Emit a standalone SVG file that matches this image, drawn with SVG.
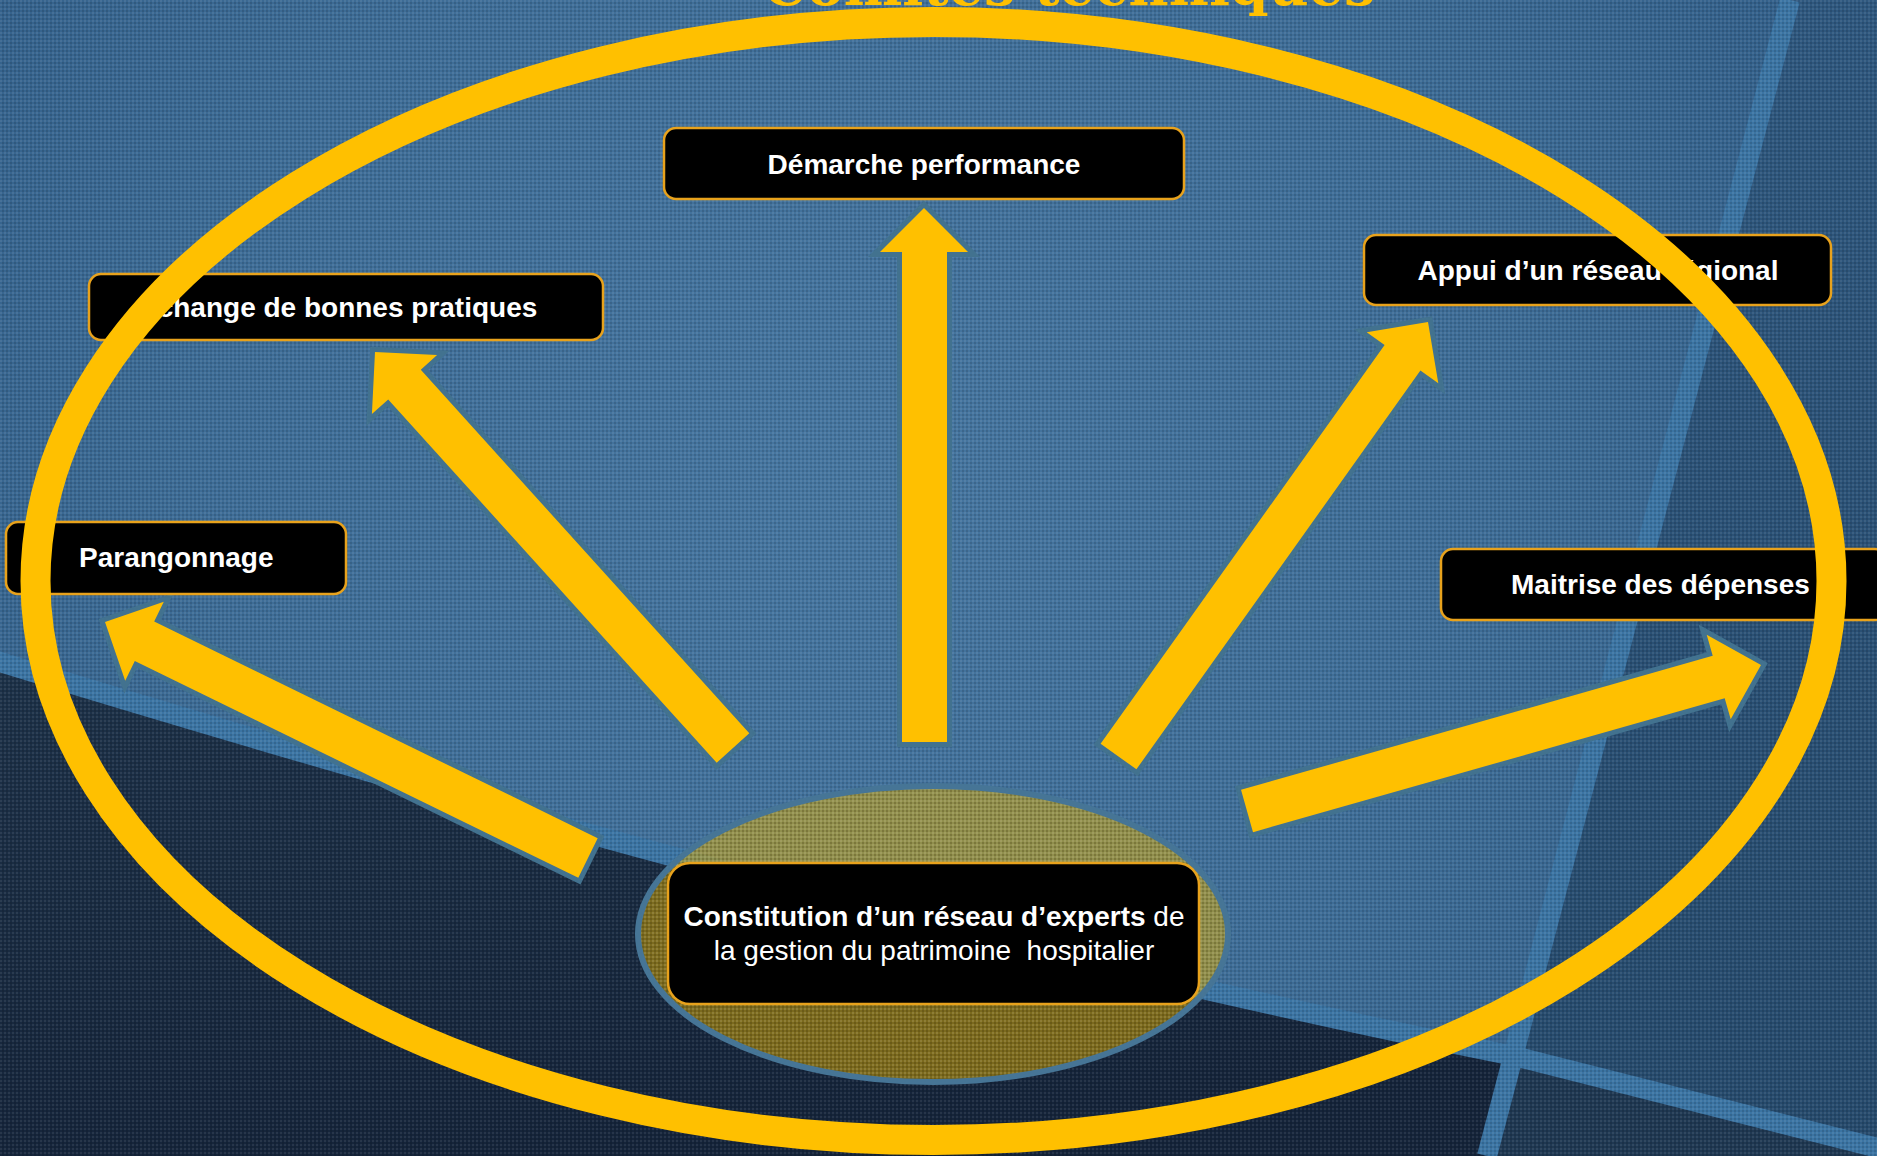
<svg xmlns="http://www.w3.org/2000/svg" width="1877" height="1156" viewBox="0 0 1877 1156">
  <defs>
    <style>
      .box { fill: #000000; stroke: #E8A21C; stroke-width: 2.5; }
      .lbl { font-family: "Liberation Sans", Arial, sans-serif; font-size: 28px; font-weight: bold; fill: #FFFFFF; }
      .reg { font-weight: normal; }
      .arrow { fill: #FFC000; stroke: #42728F; stroke-width: 10; stroke-linejoin: miter; paint-order: stroke; }
      .band { fill: none; stroke: #3B74A3; stroke-width: 20; }
    </style>
    <radialGradient id="gQ1" gradientUnits="userSpaceOnUse" cx="850" cy="480" r="1050">
      <stop offset="0" stop-color="#4676A0"/>
      <stop offset="0.6" stop-color="#3E6D97"/>
      <stop offset="1" stop-color="#33608A"/>
    </radialGradient>
    <linearGradient id="gQ2" x1="0" y1="0" x2="0" y2="1">
      <stop offset="0" stop-color="#2F587F"/>
      <stop offset="1" stop-color="#264A6C"/>
    </linearGradient>
    <linearGradient id="gQ3" x1="0" y1="0" x2="0.3" y2="1">
      <stop offset="0" stop-color="#1D3249"/>
      <stop offset="1" stop-color="#15243A"/>
    </linearGradient>
    <pattern id="tex" width="4" height="4" patternUnits="userSpaceOnUse">
      <rect x="0" y="0" width="2" height="2" fill="#FFFFFF" fill-opacity="0.08"/>
      <rect x="2" y="2" width="2" height="2" fill="#000000" fill-opacity="0.12"/>
    </pattern>
  </defs>

  <g id="background">
    <rect x="0" y="0" width="1877" height="1156" fill="url(#gQ1)"/>
    <path d="M1790,0 L1877,0 L1877,1156 L1487,1156 Z" fill="url(#gQ2)"/>
    <path d="M0,662 C500,815 1000,953 1514,1056 L1487,1156 L0,1156 Z" fill="url(#gQ3)"/>
    <path d="M1514,1056 L1877,1148 L1877,1156 L1487,1156 Z" fill="#1F3852"/>
    <path class="band" d="M-10,659 C500,815 1000,953 1514,1056 L1890,1151"/>
    <line class="band" x1="1790" y1="0" x2="1487" y2="1156"/>
    <rect x="0" y="0" width="1877" height="1156" fill="url(#tex)"/>
  </g>

  <g id="title">
    <text x="1069" y="5" text-anchor="middle" font-family="DejaVu Serif, 'Liberation Serif', serif" font-weight="bold" font-size="54" fill="#FFC000" textLength="612" lengthAdjust="spacingAndGlyphs">Comités techniques</text>
  </g>

  <g id="node-centre">
    <ellipse cx="933" cy="934" rx="295" ry="148" fill="#E0AE00" fill-opacity="0.5" stroke="#467596" stroke-width="6"/>
    <ellipse cx="933" cy="934" rx="292" ry="145" fill="url(#tex)"/>
    <rect class="box" x="668" y="863" width="531" height="141" rx="22"/>
    <text class="lbl" x="934" y="926" text-anchor="middle">Constitution d’un réseau d’experts<tspan class="reg"> de</tspan></text>
    <text class="lbl reg" x="934" y="960" text-anchor="middle" xml:space="preserve">la gestion du patrimoine  hospitalier</text>
  </g>

  <g id="connectors">
    <polygon class="arrow" points="902,742 902,252 880,252 924,208 968,252 947,252 947,742"/>
    <polygon class="arrow" points="749.3,733.2 420.8,369.8 437.1,355.1 375,352 371.9,414.1 388.2,399.4 716.7,762.8"/>
    <polygon class="arrow" points="1136.4,769.3 1420.4,370.6 1438.3,383.3 1428,322 1366.7,332.3 1384.6,345 1100.6,743.7"/>
    <polygon class="arrow" points="1253,832.2 1724.7,698.2 1730.7,719.3 1761,665 1706.7,634.7 1712.7,655.8 1241,789.8"/>
    <polygon class="arrow" points="597.7,838.2 154.2,621.5 163.8,601.8 105,622 125.2,680.8 134.8,661.1 578.3,877.8"/>
  </g>

  <g id="node-demarche">
    <rect class="box" x="664" y="128" width="520" height="71" rx="12"/>
    <text class="lbl" x="924" y="174" text-anchor="middle">Démarche performance</text>
  </g>

  <g id="node-echange">
    <rect class="box" x="89" y="274" width="514" height="66" rx="12"/>
    <text class="lbl" x="139" y="317" font-size="28.5">Échange de bonnes pratiques</text>
  </g>

  <g id="node-parangonnage">
    <rect class="box" x="6" y="522" width="340" height="72" rx="12"/>
    <text class="lbl" x="79" y="567">Parangonnage</text>
  </g>

  <g id="node-appui">
    <rect class="box" x="1364" y="235" width="467" height="70" rx="12"/>
    <text class="lbl" x="1598" y="280" text-anchor="middle">Appui d’un réseau régional</text>
  </g>

  <g id="node-maitrise">
    <rect class="box" x="1441" y="549" width="446" height="71" rx="12"/>
    <text class="lbl" x="1511" y="594">Maitrise des dépenses</text>
  </g>

  <g id="ring">
    <ellipse cx="933.5" cy="581" rx="898" ry="559" fill="none" stroke="#FFC000" stroke-width="30"/>
  </g>
</svg>
